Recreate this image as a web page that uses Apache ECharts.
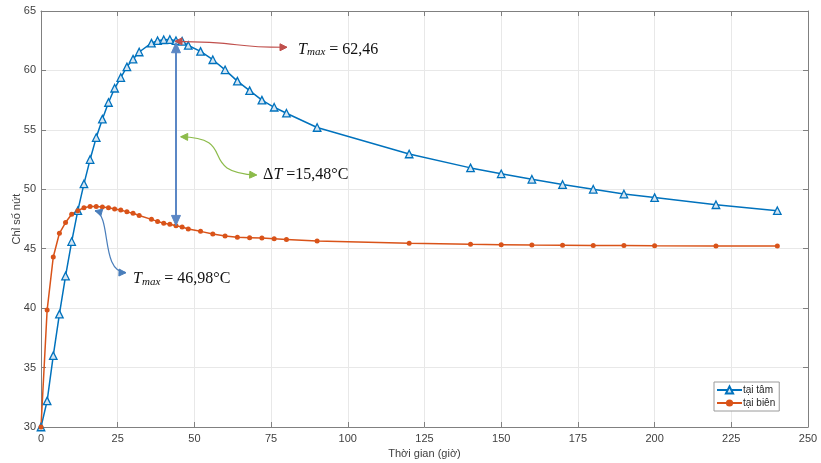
<!DOCTYPE html>
<html>
<head>
<meta charset="utf-8">
<script src="https://cdn.jsdelivr.net/npm/echarts@6/dist/echarts.min.js"></script>
<style>html,body{margin:0;padding:0;background:#fff}#c{width:821px;height:463px}</style>
</head>
<body>
<div id="c"></div>
<script>
// ---- data ----
const times = [0,2,4,6,8,10,12,14,16,18,20,22,24,26,28,30,32,36,38,40,42,44,46,48,52,56,60,64,68,72,76,80,90,120,140,150,160,170,180,190,200,220,240];
const centerVals = [30,32.2,36.0,39.5,42.7,45.6,48.2,50.45,52.5,54.35,55.9,57.3,58.5,59.4,60.3,60.95,61.55,62.3,62.5,62.58,62.6,62.5,62.45,62.1,61.6,60.9,60.05,59.1,58.3,57.5,56.9,56.4,55.2,52.97,51.8,51.3,50.84,50.4,50.0,49.6,49.3,48.7,48.2];
const edgeVals = [30,39.84,44.3,46.3,47.2,47.9,48.2,48.45,48.55,48.55,48.5,48.45,48.35,48.25,48.1,47.98,47.8,47.47,47.3,47.15,47.05,46.94,46.83,46.66,46.46,46.24,46.07,45.96,45.93,45.9,45.84,45.78,45.64,45.45,45.37,45.34,45.31,45.29,45.27,45.26,45.24,45.23,45.23];
const seriesNames = ['tại tâm','tại biên'];
const xLabel = 'Thời gian (giờ)';
const yLabel = 'Chỉ số nứt';
const xRange = [0,250,25];
const yRange = [30,65,5];
// annotation anchors in data coordinates
const redCurve = [[43.68,62.45],[68.12,62.39],[59.97,61.93],[80.18,61.95]];
const greenCurve = [[45.53,54.42],[64.86,54.31],[50.2,51.45],[70.3,51.2]];
const blueCurve = [[17.6,48.2],[23.15,47.8],[19.23,43.04],[27.7,42.98]];
const deltaArrow = [[44,62.33],[44,46.96]];
const textMaxCenter = [83.8,61.9];
const textDelta = [72.4,51.2];
const textMaxEdge = [30.0,42.6];

const BLUE = '#0072BD', ORANGE = '#D95319';
const chart = echarts.init(document.getElementById('c'));
const axisCol = '#808080', labCol = '#404040';
const FONT = '"Liberation Sans", Arial, sans-serif';
const SERIF = '"Liberation Serif", "Times New Roman", serif';

function xAx(pos, show){
  return {type:'value', position:pos, min:xRange[0], max:xRange[1], interval:xRange[2],
    axisLine:{show:true, onZero:false, lineStyle:{color:axisCol, width:1}},
    axisTick:{show:true, inside:true, length:5, lineStyle:{color:axisCol}},
    axisLabel:{show:show, color:labCol, fontSize:11, fontFamily:FONT, margin:6},
    splitLine:{show:show, lineStyle:{color:'#e8e8e8', width:1}},
    name: show?xLabel:'', nameLocation:'middle', nameGap:21, nameMoveOverlap:false,
    nameTextStyle:{color:labCol, fontSize:11, fontFamily:FONT}};
}
function yAx(pos, show){
  return {type:'value', position:pos, min:yRange[0], max:yRange[1], interval:yRange[2],
    axisLine:{show:true, onZero:false, lineStyle:{color:axisCol, width:1}},
    axisTick:{show:true, inside:true, length:5, lineStyle:{color:axisCol}},
    axisLabel:{show:show, color:labCol, fontSize:11, fontFamily:FONT, margin:5},
    splitLine:{show:show, lineStyle:{color:'#e8e8e8', width:1}},
    name: show?yLabel:'', nameLocation:'middle', nameGap:19, nameMoveOverlap:false,
    nameTextStyle:{color:labCol, fontSize:11, fontFamily:FONT}};
}

chart.setOption({
  animation:false,
  backgroundColor:'#fff',
  grid:{left:41, right:13, top:11, bottom:36, outerBoundsMode:'none', containLabel:false},
  xAxis:[xAx('bottom',true), xAx('top',false)],
  yAxis:[yAx('left',true), yAx('right',false)],
  legend:{left:714, top:382, orient:'vertical', itemGap:3, itemWidth:25, itemHeight:9,
    padding:[3,4,3,2], borderColor:'#9a9a9a', borderWidth:1, backgroundColor:'#fff',
    textStyle:{fontSize:10, color:'#262626', fontFamily:FONT, padding:[0,0,0,-4]},
    data:seriesNames},
  series:[
    {name:seriesNames[0], type:'line', data:times.map((t,i)=>[t,centerVals[i]]),
      symbol:'triangle', symbolSize:7.5, lineStyle:{color:BLUE, width:1.5},
      itemStyle:{color:'#d6e6f3', borderColor:BLUE, borderWidth:1.3}, z:3},
    {name:seriesNames[1], type:'line', data:times.map((t,i)=>[t,edgeVals[i]]),
      symbol:'circle', symbolSize:5, lineStyle:{color:ORANGE, width:1.5},
      itemStyle:{color:ORANGE, borderColor:ORANGE, borderWidth:0}, z:3}
  ]
});

function px(p){ return chart.convertToPixel({gridIndex:0}, p); }
function head(tip, from, color, len, w){
  const dx = tip[0]-from[0], dy = tip[1]-from[1];
  const L = Math.hypot(dx,dy)||1; const ux=dx/L, uy=dy/L;
  const bx = tip[0]-ux*len, by = tip[1]-uy*len;
  return {type:'polygon', shape:{points:[tip,[bx-uy*w,by+ux*w],[bx+uy*w,by-ux*w]]},
    style:{fill:color, stroke:color}, z:10, silent:true};
}
function curve(pts, color, hs){
  const P = pts.map(px);
  const g = [{type:'bezierCurve', shape:{x1:P[0][0],y1:P[0][1],cpx1:P[1][0],cpy1:P[1][1],cpx2:P[2][0],cpy2:P[2][1],x2:P[3][0],y2:P[3][1]},
    style:{stroke:color, lineWidth:1.2, fill:null}, z:10, silent:true}];
  g.push(head(P[0],P[1],color,hs[0],hs[1]));
  g.push(head(P[3],P[2],color,hs[0],hs[1]));
  return g;
}
function tmaxText(pos, val){
  const p = px(pos);
  return {type:'text', x:p[0], y:p[1], z:11, silent:true,
    style:{text:'{t|T}{s|max}{n| = '+val+'}', verticalAlign:'middle', align:'left',
      rich:{t:{fontFamily:SERIF, fontStyle:'italic', fontSize:16, fill:'#111', verticalAlign:'bottom', lineHeight:20},
            s:{fontFamily:SERIF, fontStyle:'italic', fontSize:11, fill:'#111', verticalAlign:'bottom', lineHeight:16},
            n:{fontFamily:SERIF, fontSize:16, fill:'#111', verticalAlign:'bottom', lineHeight:20}}}};
}
const dA = deltaArrow.map(px);
const DCOL = '#5b87c5';
let graphics = [];
graphics = graphics.concat(curve(redCurve, '#c0504d', [7,3.5]));
graphics = graphics.concat(curve(greenCurve, '#8cbb4a', [7,3.5]));
graphics = graphics.concat(curve(blueCurve, '#4a7ebb', [7,3.5]));
graphics.push({type:'line', shape:{x1:dA[0][0],y1:dA[0][1]+8,x2:dA[1][0],y2:dA[1][1]-8}, style:{stroke:DCOL, lineWidth:2}, z:10, silent:true});
graphics.push(head(dA[0],[dA[0][0],dA[0][1]+20],DCOL,10,4.5));
graphics.push(head(dA[1],[dA[1][0],dA[1][1]-20],DCOL,10,4.5));
graphics.push(tmaxText(textMaxCenter,'62,46'));
graphics.push(tmaxText(textMaxEdge,'46,98°C'));
const pd = px(textDelta);
graphics.push({type:'text', x:pd[0], y:pd[1], z:11, silent:true,
  style:{text:'{d|Δ}{t|T}{n| =15,48°C}', verticalAlign:'middle', align:'left',
    rich:{d:{fontFamily:SERIF, fontSize:16, fill:'#111'}, t:{fontFamily:SERIF, fontStyle:'italic', fontSize:16, fill:'#111'}, n:{fontFamily:SERIF, fontSize:16, fill:'#111'}}}});
chart.setOption({graphic:graphics});
</script>
</body>
</html>
